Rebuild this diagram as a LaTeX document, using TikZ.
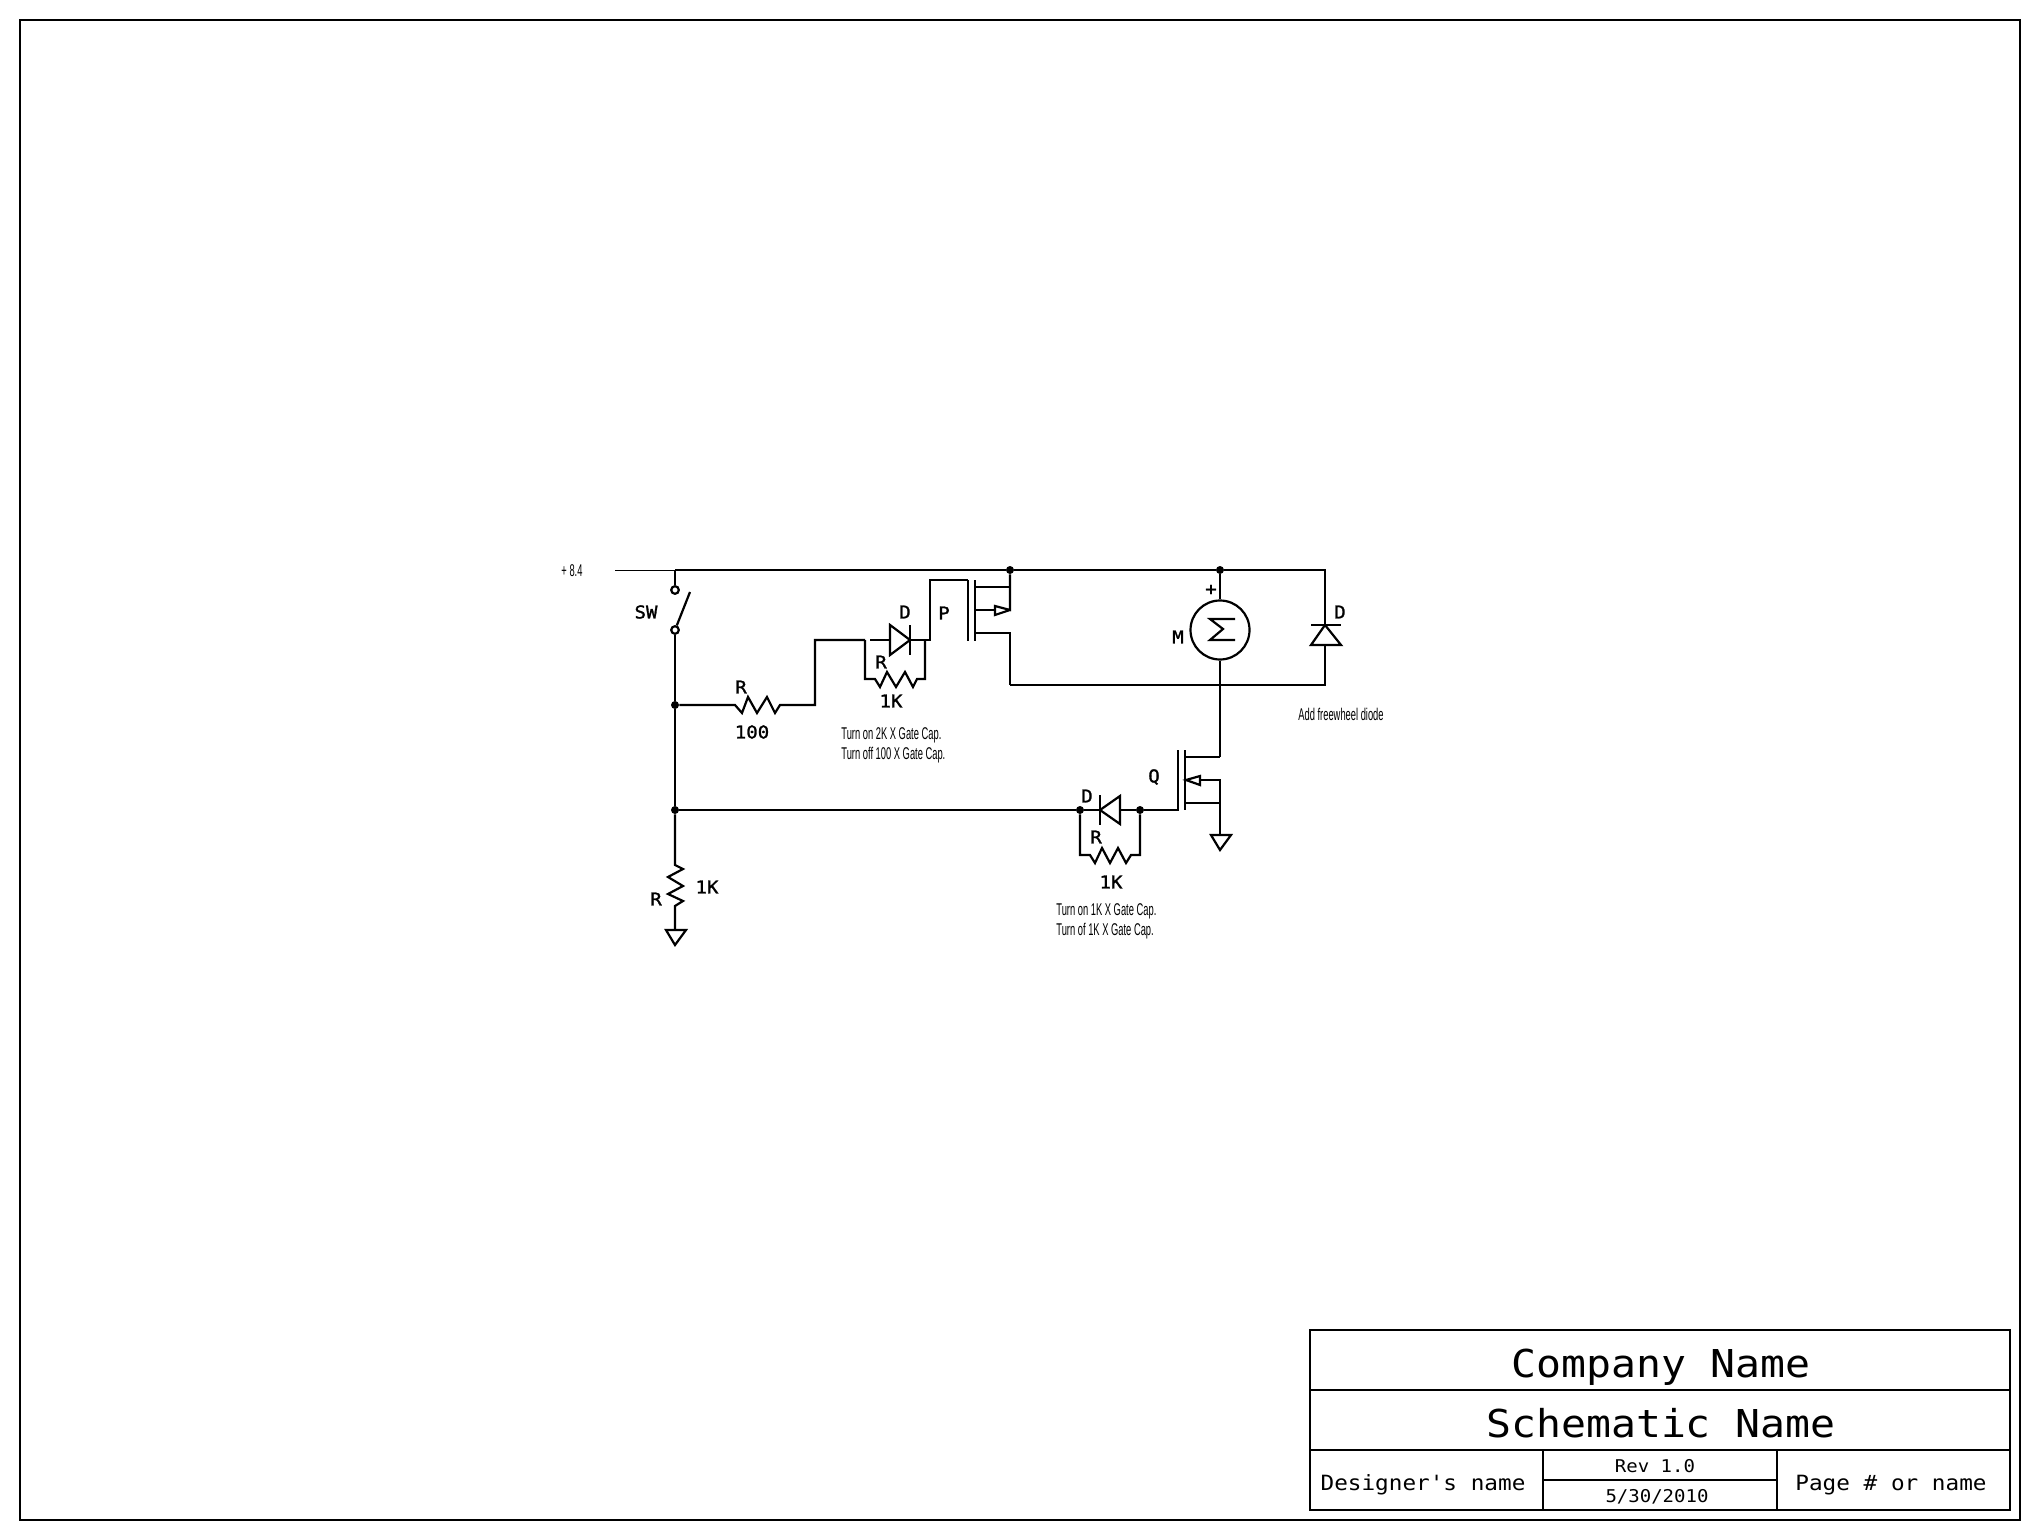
\documentclass[tikz,border=0pt]{standalone}
\usepackage{fontspec}
\newfontfamily\cadfont[FakeStretch=1.08]{DejaVu Sans Mono}
\newfontfamily\cadbold[FakeStretch=1.08,FakeBold=1.5]{DejaVu Sans Mono}
\newfontfamily\notefont[FakeStretch=0.55]{Liberation Sans}

\begin{document}
\begin{tikzpicture}[auto, x=0.5pt, y=-0.5pt, line join=miter,
  wire/.style={line width=1.1pt},
  dot/.style={circle,fill=black,inner sep=0pt,minimum size=4pt},
  contact/.style={circle,draw,line width=1.1pt,fill=white,inner sep=0pt,minimum size=3.8pt},
  lab/.style={inner sep=0pt,font=\cadbold\fontsize{8.8}{10}\selectfont},
  note/.style={inner sep=0pt,anchor=west,font=\notefont\fontsize{8.5}{10}\selectfont}]
\useasboundingbox (0,0) rectangle (2040,1540);

% sheet and title block
\coordinate (s1) at (20,20);
\coordinate (s2) at (2020,1520);
\draw[wire] (s1) rectangle (s2);
\coordinate (t1) at (1310,1330);
\coordinate (t2) at (2010,1510);
\draw[wire] (t1) rectangle (t2);
\draw[wire] (1310,1390) -- (2010,1390);
\draw[wire] (1310,1450) -- (2010,1450);
\draw[wire] (1543,1450) -- (1543,1510);
\draw[wire] (1777,1450) -- (1777,1510);
\draw[wire] (1543,1480) -- (1777,1480);
\node[inner sep=0pt,font=\cadfont\fontsize{19.2}{22}\selectfont] (company) at (1661,1367) {Company Name};
\node[inner sep=0pt,font=\cadfont\fontsize{19.2}{22}\selectfont] (schematic) at (1661,1423) {Schematic Name};
\node[inner sep=0pt,font=\cadfont\fontsize{10.5}{12}\selectfont] (designer) at (1423,1485) {Designer's name};
\node[inner sep=0pt,font=\cadfont\fontsize{10.5}{12}\selectfont] (page) at (1891,1485) {Page \# or name};
\node[inner sep=0pt,font=\cadfont\fontsize{8.8}{10}\selectfont] (rev) at (1655,1466) {Rev 1.0};
\node[inner sep=0pt,font=\cadfont\fontsize{8.8}{10}\selectfont] (date) at (1657,1497) {5/30/2010};

% junctions, contacts, motor
\node[dot] (jp) at (1010,570) {};
\node[dot] (jm) at (1220,570) {};
\node[dot] (j1) at (675,705) {};
\node[dot] (j2) at (675,810) {};
\node[dot] (j3) at (1080,810) {};
\node[dot] (j4) at (1140,810) {};
\node[contact] (swa) at (675,590) {};
\node[contact] (swb) at (675,630) {};
\node[circle,draw,line width=1.1pt,inner sep=0pt,minimum size=29.5pt] (motor) at (1220,630) {};

% supply rail and freewheel diode
\coordinate (vin) at (615,570);
\coordinate (vsw) at (675,570);
\coordinate (rr) at (1325,570);
\coordinate (fa) at (1325,625);
\coordinate (fb) at (1325,645);
\coordinate (rb) at (1325,685);
\coordinate (mb) at (1220,685);
\coordinate (pb) at (1010,685);
\draw[line width=0.5pt] (vin) -- (vsw);
\draw[wire] (vsw) -- (jp) -- (jm) -- (rr) -- (fa);
\draw[wire] (fb) -- (rb) -- (mb) -- (pb);
\draw[wire] (1311,625) -- (1341,625);
\draw[wire] (fa) -- (1341,645) -- (1311,645) -- cycle;
\draw[wire] (jm) -- (motor);
\draw[wire] (motor) -- (1220,757);
\draw[wire] (1235,619) -- (1210,619) -- (1223,629) -- (1210,640) -- (1235,640);

% switch and left branch
\draw[wire] (vsw) -- (swa);
\draw[wire] (swb) -- (j1) -- (j2);
\coordinate (lev) at (690,592);
\draw[wire] (swb) -- (lev);
\coordinate (rt) at (675,865);
\draw[wire] (j2) -- (rt) -- (683,869) -- (668,877) -- (683,886) -- (668,894) -- (683,901) -- (675,906) -- (675,930);
\draw[wire] (666,930) -- (686,930) -- (675,945) -- cycle;

% series resistor to p gate
\draw[wire] (j1) -- (735,705) -- (742,713) -- (748,697) -- (757,713) -- (767,697) -- (775,713) -- (780,705) -- (815,705) -- (815,640) -- (865,640);
\draw[wire] (870,640) -- (890,640);
\draw[wire] (890,625) -- (910,640) -- (890,655) -- cycle;
\draw[wire] (910,625) -- (910,655);
\draw[wire] (910,640) -- (930,640) -- (930,580) -- (968,580);
\draw[wire] (865,640) -- (865,679) -- (875,679) -- (880,687) -- (887,672) -- (896,687) -- (905,672) -- (913,687) -- (917,679) -- (925,679) -- (925,640);

% p mosfet
\draw[wire] (968,580) -- (968,641);
\draw[wire] (975,580) -- (975,641);
\draw[wire] (975,587) -- (1010,587);
\draw[wire] (975,633) -- (1010,633) -- (pb);
\draw[wire] (jp) -- (1010,610) -- (995,606) -- (995,615) -- (1010,610);
\draw[wire] (975,610) -- (995,610);

% q mosfet and gate network
\draw[wire] (j2) -- (j3) -- (1100,810);
\draw[wire] (1100,795) -- (1100,825);
\draw[wire] (1100,810) -- (1120,796) -- (1120,824) -- cycle;
\draw[wire] (1120,810) -- (j4) -- (1178,810) -- (1178,750);
\draw[wire] (1185,750) -- (1185,810);
\draw[wire] (1185,757) -- (1220,757);
\draw[wire] (1185,803) -- (1220,803);
\draw[wire] (1186,780) -- (1200,776) -- (1200,785) -- cycle;
\draw[wire] (1200,780) -- (1220,780) -- (1220,835);
\draw[wire] (1211,835) -- (1231,835) -- (1220,850) -- cycle;
\draw[wire] (j3) -- (1080,855) -- (1090,855) -- (1095,863) -- (1102,848) -- (1110,863) -- (1118,848) -- (1126,863) -- (1131,855) -- (1140,855) -- (j4);

% labels
\node[inner sep=0pt,font=\notefont\fontsize{8.5}{10}\selectfont] (volts) at (572,571) {+ 8.4};
\node[lab] (lsw) at (646,612) {SW};
\node[lab] (lr1) at (741,687) {R};
\node[lab] (l100) at (752,732) {100};
\node[lab] (ld1) at (905,612) {D};
\node[lab] (lr2) at (881,662) {R};
\node[lab] (lk2) at (891,701) {1K};
\node[lab] (lp) at (944,613) {P};
\node[lab] (lplus) at (1211,590) {+};
\node[lab] (lm) at (1178,637) {M};
\node[lab] (ld2) at (1340,612) {D};
\node[lab] (lq) at (1154,777) {Q};
\node[lab] (ld3) at (1087,796) {D};
\node[lab] (lr3) at (1096,837) {R};
\node[lab] (lk3) at (1111,882) {1K};
\node[lab] (lr4) at (656,899) {R};
\node[lab] (lk4) at (707,887) {1K};
\node[note] (n1) at (841,735) {Turn on 2K X Gate Cap.};
\node[note] (n2) at (841,755) {Turn off 100 X Gate Cap.};
\node[note] (n3) at (1298,714) {Add freewheel diode};
\node[note] (n4) at (1056,911) {Turn on 1K X Gate Cap.};
\node[note] (n5) at (1056,931) {Turn of 1K X Gate Cap.};
\end{tikzpicture}
\end{document}
